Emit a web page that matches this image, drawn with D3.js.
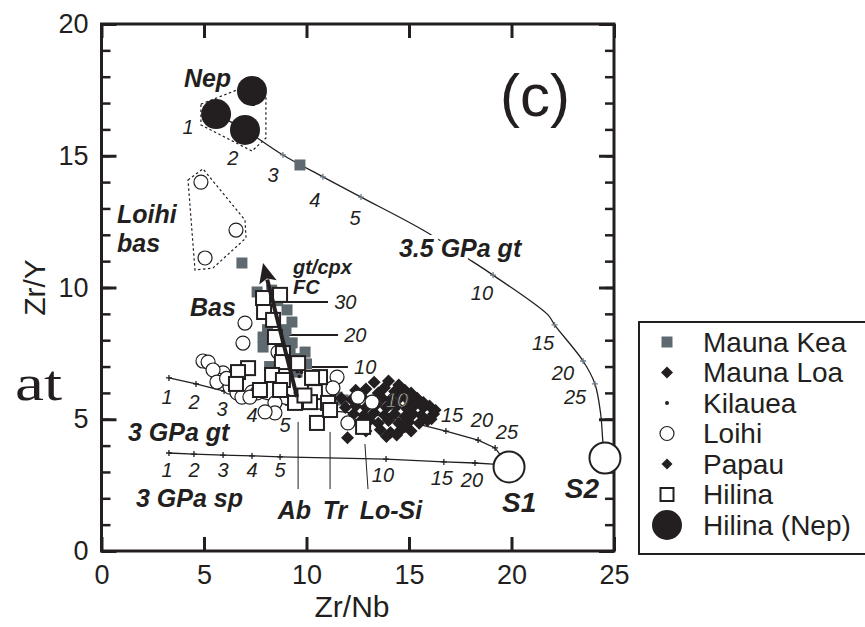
<!DOCTYPE html>
<html><head><meta charset="utf-8">
<script src="https://cdn.jsdelivr.net/npm/d3@7"></script>
<style>body{margin:0;background:#fff} svg{display:block} text{font-family:"Liberation Sans",Arial,Helvetica,sans-serif}</style>
</head><body><svg id="c" width="865" height="627"></svg>
<script>
// ---------------- DATA ----------------
const xTicks = [0, 5, 10, 15, 20, 25];
const yTicksMajor = [0, 5, 10, 15, 20];
const yTicksMinor = d3.range(0, 21, 1);

const maunaKea = [[6.85,10.93],[7.59,9.83],[7.83,9.41],[9.05,9.15],[9.29,8.69],[7.88,8.12],[7.88,7.74],
  [9.2,7.63],[9.93,7.55],[9.54,6.79],[11.49,5.84],[9.68,14.65],[11.78,5.73],[14.3,5.55],[8.3,9.9],[8.9,8.0],
  [8.0,9.3],[8.6,9.5],[9.0,8.4],[8.1,8.4],[9.6,7.3],[10.0,7.1],[9.3,7.9],[8.2,7.0]];
const maunaLoa = [[13.3,6.4],[14.0,6.45],[14.5,6.3],
  [12.4,6.1],[12.9,6.15],[13.5,6.0],[13.8,6.2],[14.3,6.05],[14.8,6.1],[15.1,6.0],
  [11.7,5.8],[12.2,5.75],[12.7,5.85],[13.2,5.7],[13.7,5.8],[14.1,5.75],[14.6,5.85],[15.0,5.7],[15.4,5.8],
  [11.9,5.45],[12.4,5.5],[12.9,5.45],[13.4,5.55],[13.9,5.45],[14.4,5.5],[14.9,5.4],[15.3,5.55],[15.7,5.45],[16.0,5.5],
  [12.3,5.2],[12.8,5.15],[13.3,5.25],[13.8,5.15],[14.3,5.2],[14.8,5.1],[15.2,5.2],[15.6,5.15],[16.2,5.2],
  [12.6,4.9],[13.5,4.85],[14.0,4.95],[14.5,4.85],[15.0,4.9],[15.5,4.85],[15.9,4.95],
  [12.9,4.55],[13.6,4.6],[14.1,4.5],[14.6,4.6],[15.1,4.55],
  [12.0,4.3],[13.9,4.35],[14.4,4.4]];
const papau = [[16.3,5.35],[16.1,5.0],[15.7,5.65],[14.8,4.7],[13.1,4.95]];
const kilauea = [[9.55,6.8],[9.75,6.78],[9.65,6.62],[9.45,6.0],[9.1,5.9],[8.9,6.05]];
const loihi = [[4.85,14.0],[6.56,12.18],[5.05,11.12],[4.95,7.21],[5.2,7.17],[7.0,8.65],[6.9,7.89],
  [5.93,6.76],[5.68,6.49],[5.44,6.87],[6.27,6.22],[6.61,6.0],[6.85,5.84],[7.34,6.03],[7.59,6.0],
  [8.46,5.62],[8.46,5.24],[8.61,7.55],[11.49,6.6],[11.29,6.19],[12.02,4.86],[12.51,5.84],[13.2,5.65],
  [5.63,6.41],[7.24,5.84],[7.98,5.28],[6.1,6.55]];
const hilina = [[8.71,9.72],[7.88,9.6],[7.93,9.07],[8.37,8.77],[8.46,8.12],[8.85,7.51],[8.8,7.17],
  [9.59,7.13],[7.15,6.94],[6.66,6.79],[6.56,6.34],[7.73,6.11],[8.32,6.68],[8.85,6.49],[8.71,6.11],
  [10.66,6.6],[10.27,6.57],[10.41,6.03],[9.44,5.62],[10.17,5.65],[11.05,5.62],[10.51,4.86],[11.15,5.35],
  [12.76,4.71],[9.9,5.9]];
const hilinaNep = [[5.59,16.58],[7.34,17.46],[7.0,15.98]];

// model curves
const gt35 = [[5.59,16.58],[7.0,15.98],[8.85,15.03],[10.8,14.2],[12.66,13.43],[15.68,12.18],[18.07,11.0],
  [19.1,10.47],[21.78,8.96],[22.1,8.58],[23.49,7.21],[24.07,6.34],[24.35,5.2],[24.46,4.14],[24.56,3.53]];
const gt35Ticks = [[8.85,15.03],[10.8,14.2],[12.66,13.43],[19.1,10.47],[22.1,8.58],[23.49,7.21],[24.07,6.34]];
const gt35Labels = [["1",4.22,16.09],["2",6.41,14.91],["3",8.37,14.27],["4",10.41,13.32],["5",12.37,12.64],
  ["10",18.56,9.79],["15",21.54,7.89],["20",22.51,6.76],["25",23.1,5.84]];
const gt3 = [[3.29,6.57],[4.61,6.34],[5.98,6.07],[7.44,5.88],[9.1,5.54],[11.5,5.3],[14.0,5.1],
  [16.8,4.55],[18.37,4.21],[19.2,3.91],[19.88,3.19]];
const gt3Ticks = [[3.29,6.57],[4.61,6.34],[5.98,6.07],[7.44,5.88],[9.1,5.54],[14.0,5.1],[16.8,4.55],[18.37,4.21],[19.2,3.91]];
const gt3Labels = [["1",3.2,5.84],["2",4.51,5.65],["3",5.88,5.38],["4",7.34,5.16],["5",8.95,4.78],
  ["10",14.41,5.73],["15",17.1,5.16],["20",18.56,4.97],["25",19.78,4.52]];
const sp3 = [[3.29,3.72],[4.51,3.68],[5.93,3.64],[7.34,3.61],[8.71,3.57],[13.88,3.49],[16.7,3.38],
  [18.22,3.34],[19.1,3.3],[19.88,3.22]];
const sp3Ticks = [[3.29,3.72],[4.51,3.68],[5.93,3.64],[7.34,3.61],[8.71,3.57],[13.88,3.49],[16.7,3.38],[18.22,3.34]];
const sp3Labels = [["1",3.2,3.07],["2",4.51,3.07],["3",5.93,3.07],["4",7.34,3.07],["5",8.71,3.07],
  ["10",13.73,2.88],["15",16.6,2.77],["20",18.07,2.69]];
const sources = [[19.88,3.19],[24.56,3.53]];
const sourceLabels = [["S1",19.54,1.86],["S2",22.6,2.39]];

const nepPoly = [[4.85,16.96],[6.85,17.57],[8.02,17.23],[8.02,15.67],[7.34,15.18],[4.85,16.17]];
const loihiPoly = [[4.22,14.08],[4.95,14.5],[7.0,12.56],[7.05,11.88],[5.44,10.74],[4.56,10.66]];

const fcLines = [["30",8.56,11.05,9.45],["20",9.05,11.54,8.2],["10",9.68,12.02,6.98]];
const fcArrow = [[9.54,5.84],[7.88,10.93]];
const mixLines = [["Ab",9.59,4.9,9.59,2.35],["Tr",11.15,4.52,11.15,2.35],["Lo-Si",12.85,4.06,13.0,2.35]];
const mixLabels = [["Ab",9.41,1.56],["Tr",11.39,1.56],["Lo-Si",14.12,1.56]];
const boldLabels = [["3 GPa gt",1.29,4.5],["3 GPa sp",1.68,2.01],["3.5 GPa gt",14.51,11.5],["Bas",4.32,9.26],
  ["Nep",4.02,17.95],["Loihi",0.76,12.79],["bas",0.76,11.69]];
const fcTitle = [["gt/cpx",9.34,10.78],["FC",9.34,10.02]];
const legendNames = ["Mauna Kea","Mauna Loa","Kilauea","Loihi","Papau","Hilina","Hilina (Nep)"];

// ---------------- DRAW ----------------
const svg = d3.select("#c");
const L = 101.5, R = 614, T = 24, B = 551;
const x = d3.scaleLinear().domain([0, 25]).range([L, R]);
const y = d3.scaleLinear().domain([0, 20]).range([B, T]);
const ink = "#231f20", grey = "#5f6a70";

function styleAxis(g, w) {
  g.select(".domain").remove();
  g.selectAll(".tick line").attr("stroke", ink).attr("stroke-width", w);
  g.selectAll("text").attr("font-size", 27).attr("fill", ink);
}
svg.append("g").attr("transform", `translate(0,${B})`)
  .call(d3.axisBottom(x).tickValues(xTicks).tickSize(-14).tickPadding(14).tickFormat(d3.format("d")))
  .call(g => styleAxis(g, 3));
svg.append("g").attr("transform", `translate(0,${T})`)
  .call(d3.axisTop(x).tickValues(xTicks).tickSize(-14).tickFormat(""))
  .call(g => styleAxis(g, 3));
svg.append("g").attr("transform", `translate(${L},0)`)
  .call(d3.axisLeft(y).tickValues(yTicksMinor).tickSize(-9).tickFormat(""))
  .call(g => styleAxis(g, 2.5));
svg.append("g").attr("transform", `translate(${L},0)`)
  .call(d3.axisLeft(y).tickValues(yTicksMajor).tickSize(-15).tickPadding(13).tickFormat(d3.format("d")))
  .call(g => styleAxis(g, 3));
svg.append("g").attr("transform", `translate(${R},0)`)
  .call(d3.axisRight(y).tickValues(yTicksMinor).tickSize(-9).tickFormat(""))
  .call(g => styleAxis(g, 2.5));
svg.append("g").attr("transform", `translate(${R},0)`)
  .call(d3.axisRight(y).tickValues(yTicksMajor).tickSize(-15).tickFormat(""))
  .call(g => styleAxis(g, 3));
svg.append("rect").attr("x", L).attr("y", T).attr("width", R - L).attr("height", B - T)
  .attr("fill", "none").attr("stroke", ink).attr("stroke-width", 3);

svg.append("text").attr("x", 352).attr("y", 617).attr("text-anchor", "middle")
  .attr("font-size", 30).attr("fill", ink).text("Zr/Nb");
svg.append("text").attr("transform", `translate(45,${(T + B) / 2}) rotate(-90)`).attr("text-anchor", "middle")
  .attr("font-size", 30).attr("fill", ink).text("Zr/Y");
svg.append("text").attr("x", 15).attr("y", 400).style("font-family", "'Liberation Serif', 'DejaVu Serif', serif")
  .attr("font-size", 50).attr("textLength", 47).attr("lengthAdjust", "spacingAndGlyphs").attr("fill", ink).text("at");

const line = d3.line().x(d => x(d[0])).y(d => y(d[1]));
const pl = svg.append("g");
[nepPoly, loihiPoly].forEach(p => pl.append("path").attr("d", line(p) + "Z")
  .attr("fill", "none").attr("stroke", ink).attr("stroke-width", 1.2).attr("stroke-dasharray", "2.5,2.5"));
pl.append("path").attr("d", d3.line().x(d => x(d[0])).y(d => y(d[1])).curve(d3.curveCatmullRom)(gt35))
  .attr("fill", "none").attr("stroke", ink).attr("stroke-width", 1.3);
pl.append("path").attr("d", line(gt3)).attr("fill", "none").attr("stroke", ink).attr("stroke-width", 1.3);
pl.append("path").attr("d", line(sp3)).attr("fill", "none").attr("stroke", ink).attr("stroke-width", 1.3);
function crosses(arr, col) {
  pl.selectAll(null).data(arr).join("path")
    .attr("d", d => `M${x(d[0]) - 3},${y(d[1])}h6M${x(d[0])},${y(d[1]) - 3}v6`)
    .attr("stroke", col).attr("stroke-width", 1.3);
}
crosses(gt35Ticks, "#6b7a85"); crosses(gt3Ticks, ink); crosses(sp3Ticks, ink);
pl.selectAll(null).data(fcLines).join("line")
  .attr("x1", d => x(d[1])).attr("x2", d => x(d[2])).attr("y1", d => y(d[3])).attr("y2", d => y(d[3]))
  .attr("stroke", ink).attr("stroke-width", 2);
pl.selectAll(null).data(mixLines).join("line")
  .attr("x1", d => x(d[1])).attr("y1", d => y(d[2])).attr("x2", d => x(d[3])).attr("y2", d => y(d[4]))
  .attr("stroke", ink).attr("stroke-width", 1);

const dg = svg.append("g");
dg.selectAll(null).data(maunaKea).join("rect")
  .attr("x", d => x(d[0]) - 5.5).attr("y", d => y(d[1]) - 5.5).attr("width", 11).attr("height", 11).attr("fill", grey);
const diamond = s => `M0,${-s}L${s},0L0,${s}L${-s},0Z`;
dg.selectAll(null).data(maunaLoa).join("path")
  .attr("transform", d => `translate(${x(d[0])},${y(d[1])})`).attr("d", diamond(6.5)).attr("fill", ink);
dg.selectAll(null).data(papau).join("path")
  .attr("transform", d => `translate(${x(d[0])},${y(d[1])})`).attr("d", diamond(6)).attr("fill", ink);
dg.selectAll(null).data(kilauea).join("circle")
  .attr("cx", d => x(d[0])).attr("cy", d => y(d[1])).attr("r", 1.8).attr("fill", ink);
dg.selectAll(null).data(loihi).join("circle")
  .attr("cx", d => x(d[0])).attr("cy", d => y(d[1])).attr("r", 7).attr("fill", "#fff").attr("stroke", ink).attr("stroke-width", 1.2);
dg.selectAll(null).data(hilina).join("rect")
  .attr("x", d => x(d[0]) - 7).attr("y", d => y(d[1]) - 7).attr("width", 14).attr("height", 14)
  .attr("fill", "#fff").attr("stroke", ink).attr("stroke-width", 2);
dg.selectAll(null).data(hilinaNep).join("circle")
  .attr("cx", d => x(d[0])).attr("cy", d => y(d[1])).attr("r", 15).attr("fill", ink);
dg.selectAll(null).data(sources).join("circle")
  .attr("cx", d => x(d[0])).attr("cy", d => y(d[1])).attr("r", 15.5).attr("fill", "#fff").attr("stroke", ink).attr("stroke-width", 2);

// FC arrow
const [a0, a1] = fcArrow;
const ax0 = x(a0[0]), ay0 = y(a0[1]), ax1 = x(a1[0]), ay1 = y(a1[1]);
const ang = Math.atan2(ay1 - ay0, ax1 - ax0);
const hl = 20, hw = 9;
const bx = ax1 - hl * Math.cos(ang), by = ay1 - hl * Math.sin(ang);
dg.append("line").attr("x1", ax0).attr("y1", ay0).attr("x2", bx + 3 * Math.cos(ang)).attr("y2", by + 3 * Math.sin(ang))
  .attr("stroke", ink).attr("stroke-width", 4);
dg.append("path").attr("d", `M${ax1},${ay1}L${bx - hw * Math.sin(ang)},${by + hw * Math.cos(ang)}L${bx + 4 * Math.cos(ang)},${by + 4 * Math.sin(ang)}L${bx + hw * Math.sin(ang)},${by - hw * Math.cos(ang)}Z`)
  .attr("fill", ink);

const tg = svg.append("g");
function lab(arr, size, opts) {
  return tg.selectAll(null).data(arr).join("text")
    .attr("x", d => x(d[1])).attr("y", d => y(d[2])).attr("dy", "0.35em")
    .attr("font-size", size).attr("font-style", "italic").attr("font-weight", opts.bold ? "bold" : "normal")
    .attr("text-anchor", opts.anchor || "start").attr("fill", ink).text(d => d[0]);
}
lab(gt35Labels, 20, {anchor: "middle"});
lab(gt3Labels, 20, {anchor: "middle"}).filter(d => d[0] === "10")
  .attr("fill", "#fff").attr("stroke", ink).attr("stroke-width", 1);
lab(sp3Labels, 20, {anchor: "middle"});
lab(fcLines.map(d => [d[0], d[2] + 0.3, d[3]]), 20, {});
lab(boldLabels, 25, {bold: true}).filter(d => d[0] === "3.5 GPa gt")
  .attr("stroke", "#fff").attr("stroke-width", 8).attr("paint-order", "stroke");
lab(mixLabels, 25, {bold: true, anchor: "middle"});
lab(fcTitle, 20, {bold: true});
lab(sourceLabels, 28, {bold: true});
svg.append("text").attr("x", 500).attr("y", 95).attr("dy", "0.35em").attr("font-size", 60)
  .attr("fill", ink).text("(c)");

// legend
const lg = svg.append("g");
lg.append("rect").attr("x", 639).attr("y", 322).attr("width", 240).attr("height", 232)
  .attr("fill", "#fff").attr("stroke", ink).attr("stroke-width", 2);
const ly = d3.scalePoint().domain(legendNames).range([342, 525]);
const sx = 667;
legendNames.forEach((n, i) => {
  const cy = ly(n);
  if (i === 0) lg.append("rect").attr("x", sx - 5.5).attr("y", cy - 5.5).attr("width", 11).attr("height", 11).attr("fill", grey);
  if (i === 1) lg.append("path").attr("transform", `translate(${sx},${cy})`).attr("d", diamond(6)).attr("fill", ink);
  if (i === 2) lg.append("circle").attr("cx", sx).attr("cy", cy).attr("r", 2).attr("fill", ink);
  if (i === 3) lg.append("circle").attr("cx", sx).attr("cy", cy).attr("r", 7).attr("fill", "#fff").attr("stroke", ink).attr("stroke-width", 1.2);
  if (i === 4) lg.append("path").attr("transform", `translate(${sx},${cy})`).attr("d", diamond(5.5)).attr("fill", ink);
  if (i === 5) lg.append("rect").attr("x", sx - 6.5).attr("y", cy - 6.5).attr("width", 13).attr("height", 13).attr("fill", "#fff").attr("stroke", ink).attr("stroke-width", 2);
  if (i === 6) lg.append("circle").attr("cx", sx).attr("cy", cy).attr("r", 15).attr("fill", ink);
  lg.append("text").attr("x", 703).attr("y", cy).attr("dy", "0.35em").attr("font-size", 28).attr("fill", ink).text(n);
});
</script></body></html>
